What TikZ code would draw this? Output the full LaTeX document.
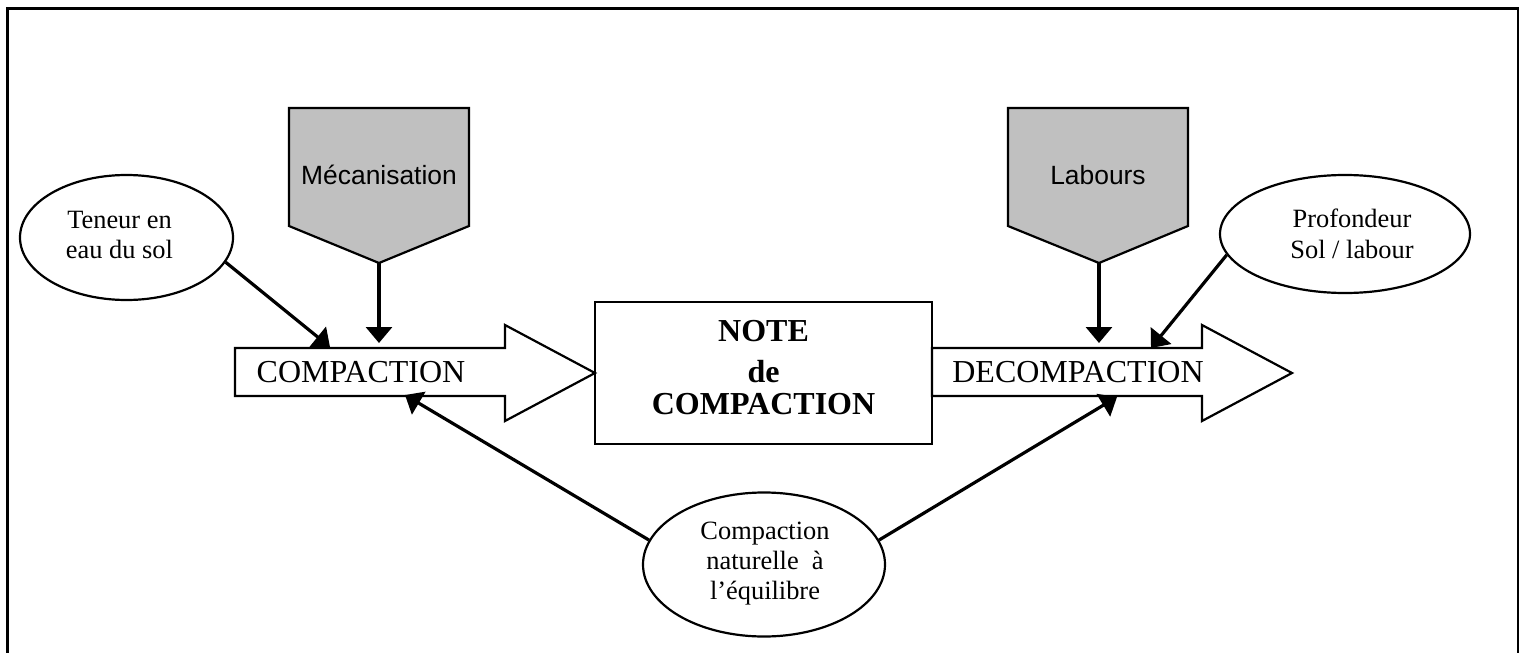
\documentclass[tikz,border=0pt]{standalone}
\usepackage{fontspec}
\setmainfont{Liberation Serif}
\newfontfamily\arialfont{Liberation Sans}
\usetikzlibrary{arrows.meta,shapes.geometric}
\definecolor{boxgray}{RGB}{192,192,192}
\begin{document}
\begin{tikzpicture}[x=1pt,y=-1pt,
  conn/.style={line width=3.2pt,-{Triangle[width=26pt,length=16pt]}},
  shape line/.style={line width=2.2pt},
  ell/.style={ellipse,draw,line width=2.2pt,inner sep=0pt},
  smalltxt/.style={font=\fontsize{26.4}{30.5}\selectfont,align=center,inner sep=0pt},
  bigtxt/.style={font=\fontsize{32}{36}\selectfont,align=center,inner sep=0pt},
  penttxt/.style={font=\arialfont\fontsize{26.4}{30}\selectfont,inner sep=0pt}]
\useasboundingbox (0,0) rectangle (1519,653);
% frame
\draw[line width=3pt] (7,8) rectangle (1518,662);

% pentagons
\draw[shape line,fill=boxgray] (289,108) -- (469,108) -- (469,226) -- (379,263) -- (289,226) -- cycle;
\coordinate (mectip) at (379,263);
\node[penttxt] (mec) at (379,175) {Mécanisation};
\draw[shape line,fill=boxgray] (1008,108) -- (1188,108) -- (1188,226) -- (1099,263) -- (1008,226) -- cycle;
\coordinate (labtip) at (1099,263);
\node[penttxt] (lab) at (1098,175) {Labours};

% block arrows
\draw[shape line,fill=white] (235,348) -- (505,348) -- (505,325) -- (595,373) -- (505,421) -- (505,396) -- (235,396) -- cycle;
\node[bigtxt] (comp) at (361,372) {COMPACTION};
\draw[shape line,fill=white] (932,348) -- (1202,348) -- (1202,325) -- (1292,373) -- (1202,421) -- (1202,396) -- (932,396) -- cycle;
\node[bigtxt] (decomp) at (1078,372) {DECOMPACTION};

% central box
\draw[shape line] (595,302) rectangle (932,444);
\node[bigtxt,font=\fontsize{32}{36}\selectfont\bfseries] (note) at (763.5,368) {NOTE\\[5pt]de\\[-4pt]COMPACTION};

% ellipses
\node[ell,minimum width=213pt,minimum height=125pt] (ten) at (126.5,237.5) {};
\node[smalltxt] (tentxt) at (119.5,235) {Teneur en\\eau du sol};
\node[ell,minimum width=250pt,minimum height=118pt] (prof) at (1345,234) {};
\node[smalltxt] (proftxt) at (1352,234) {Profondeur\\Sol / labour};
\node[ell,minimum width=242pt,minimum height=144pt] (nat) at (764,564.5) {};
\node[smalltxt,font=\fontsize{26.4}{30}\selectfont] (nattxt) at (765,564) {Compaction\\naturelle~ à\\l’équilibre};

% connector ends
\coordinate (c1) at (379,343);
\coordinate (c2) at (330,347);
\coordinate (c3) at (405,395);
\coordinate (d1) at (1099,343);
\coordinate (d2) at (1151,348);
\coordinate (d3) at (1117,397);

% connectors
\draw[conn] (mectip) -- (c1);
\draw[conn] (ten.-14) -- (c2);
\draw[conn] (nat.168) -- (c3);
\draw[conn] (labtip) -- (d1);
\draw[conn] (prof.190) -- (d2);
\draw[conn] (nat.12) -- (d3);
\end{tikzpicture}
\end{document}
